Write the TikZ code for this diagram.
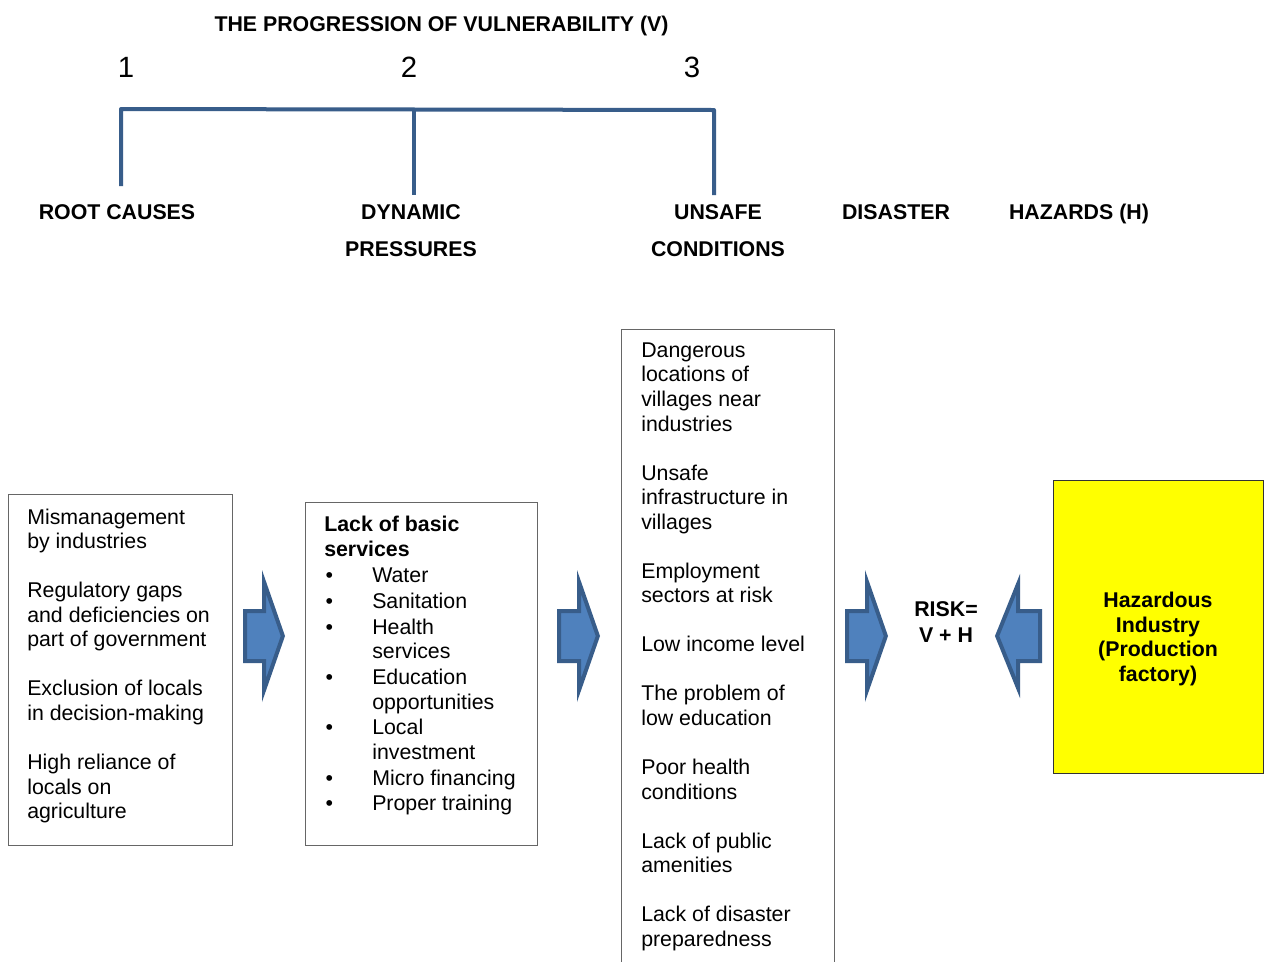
\documentclass[tikz,border=0pt]{standalone}
\usepackage{fontspec}
\setmainfont{Liberation Sans}
\definecolor{blkfill}{HTML}{4F81BD}
\definecolor{blkline}{HTML}{385D8A}
\definecolor{boxgray}{HTML}{666666}
\definecolor{hazyellow}{HTML}{FFFF00}
\newcommand\bodyfont{\fontsize{16}{18.4}\selectfont}
\newcommand\bul{\makebox[36pt][l]{\hspace{1pt}\textbullet}}
\newcommand\rightblk[3]{%
  \pgfmathsetmacro\hh{(#3-2.12-#2-2)*66/(#3-#2)}%
  \draw[blk] (#1+2,611) -- (#2+2,611) -- (#2+2,636-\hh) -- (#3-2.12,636)
    -- (#2+2,636+\hh) -- (#2+2,661) -- (#1+2,661) -- cycle;}
\newcommand\leftblk[3]{%
  \pgfmathsetmacro\hh{(#2-2-#1-2.12)*62/(#2-#1)}%
  \draw[blk] (#3-2,611) -- (#2-2,611) -- (#2-2,636-\hh) -- (#1+2.12,636)
    -- (#2-2,636+\hh) -- (#2-2,661) -- (#3-2,661) -- cycle;}
\tikzset{
  box/.style={draw=boxgray, line width=1.1pt, inner sep=0pt, anchor=north west},
  bodytext/.style={font=\bodyfont, align=left, inner sep=0pt, anchor=north west},
  headtext/.style={font=\bfseries\bodyfont, inner sep=0pt},
  numtext/.style={font=\fontsize{22}{26}\selectfont, inner sep=0pt, anchor=base},
  blk/.style={fill=blkfill, draw=blkline, line width=3pt, line join=miter},
  bracket/.style={draw=blkline, line width=3pt, line join=round},
}
\begin{document}
\begin{tikzpicture}[x=0.75pt,y=-0.75pt]
\useasboundingbox (0,0) rectangle (1268,961);
\fill[white] (0,0) rectangle (1268,961);

% title and numbers
\node[headtext, anchor=base] (title) at (441.5,31.6) {THE PROGRESSION OF VULNERABILITY (V)};
\node[numtext] (n1) at (126,77.5) {1};
\node[numtext] (n2) at (409,77.5) {2};
\node[numtext] (n3) at (692,77.5) {3};

% bracket
\coordinate (bl) at (121,186);
\coordinate (blt) at (121,109);
\coordinate (brt) at (714,110);
\coordinate (br) at (714,195);
\coordinate (bmt) at (414,110);
\coordinate (bm) at (414,195);
\draw[bracket] (bl) -- (blt) -- (brt) -- (br);
\draw[bracket] (bmt) -- (bm);

% stage labels
\node[headtext, anchor=base] (root) at (117,219.6) {ROOT CAUSES};
\node[headtext, align=center] (dyn) at (411,230.5) {DYNAMIC\\[9.4pt]PRESSURES};
\node[headtext, align=center] (uns) at (718,230.5) {UNSAFE\\[9.4pt]CONDITIONS};
\node[headtext, anchor=base] (dis) at (896,219.6) {DISASTER};
\node[headtext, anchor=base] (haz) at (1079,219.6) {HAZARDS (H)};

% boxes
\node[box, minimum width=168pt, minimum height=263.25pt] (b1) at (8,494) {};
\node[box, minimum width=174pt, minimum height=257.25pt] (b2) at (305,502) {};
\node[box, minimum width=159.75pt, minimum height=510pt] (b3) at (621,329) {};
\node[box, draw=black!80, fill=hazyellow, minimum width=157.5pt, minimum height=219.75pt] (b4) at (1053,480) {};

% box texts
\node[bodytext] (t1) at (27,508.5) {Mismanagement\\by industries\\[18.4pt]Regulatory gaps\\and deficiencies on\\part of government\\[18.4pt]Exclusion of locals\\in decision-making\\[18.4pt]High reliance of\\locals on\\agriculture};

\node[bodytext] (t2) at (324,516) {\textbf{Lack of basic}\\\textbf{services}\\[1.5pt]\bul Water\\[0.9pt]\bul Sanitation\\[0.9pt]\bul Health\\\hspace*{36pt}services\\[0.9pt]\bul Education\\\hspace*{36pt}opportunities\\[0.9pt]\bul Local\\\hspace*{36pt}investment\\[0.9pt]\bul Micro financing\\[0.9pt]\bul Proper training};

\node[bodytext] (t3) at (641,342.5) {Dangerous\\locations of\\villages near\\industries\\[18.4pt]Unsafe\\infrastructure in\\villages\\[18.4pt]Employment\\sectors at risk\\[18.4pt]Low income level\\[18.4pt]The problem of\\low education\\[18.4pt]Poor health\\conditions\\[18.4pt]Lack of public\\amenities\\[18.4pt]Lack of disaster\\preparedness};

\node[headtext, align=center] (t4) at (1158,639) {Hazardous\\Industry\\(Production\\factory)};

\node[headtext, align=center] (risk) at (946,622) {RISK=\\[1pt]V + H};

% block arrows
\rightblk{243}{262}{285}
\rightblk{557}{577}{600}
\rightblk{845}{865}{888}
\leftblk{995}{1020}{1042}
\end{tikzpicture}
\end{document}
